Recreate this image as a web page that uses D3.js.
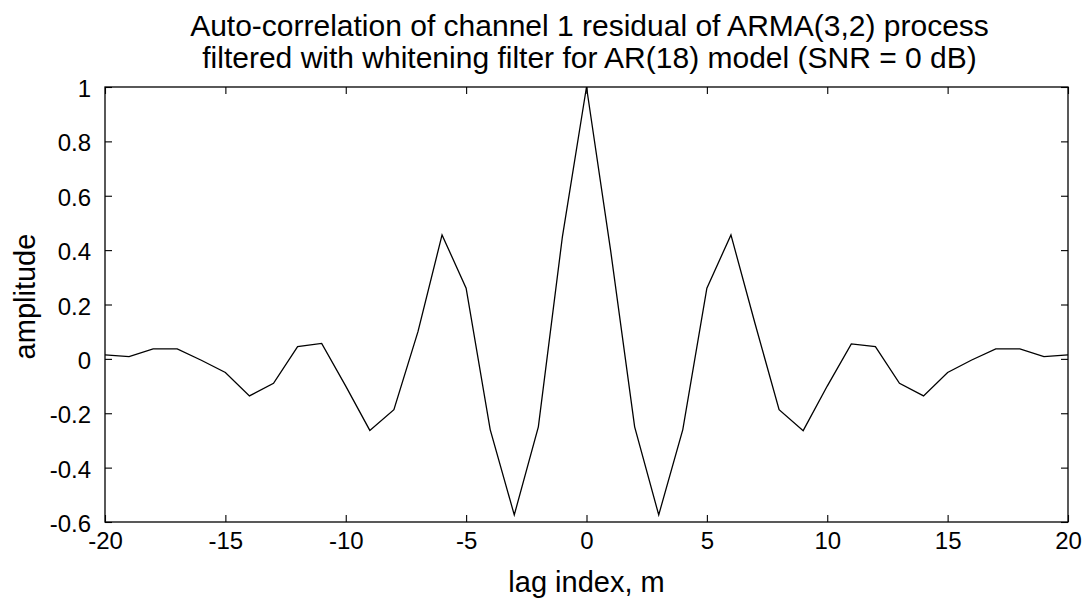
<!DOCTYPE html>
<html>
<head>
<meta charset="utf-8">
<script src="https://cdn.jsdelivr.net/npm/d3@7"></script>
<style>
  html, body { margin: 0; padding: 0; background: #fff; }
  svg { display: block; }
  text { font-family: "Liberation Sans", Arial, Helvetica, sans-serif; fill: #000; }
</style>
</head>
<body>
<svg id="chart" width="1086" height="601"></svg>
<script>
// Lag index m and the auto-correlation of the whitened residual at each lag
const lags = [-20, -19, -18, -17, -16, -15, -14, -13, -12, -11, -10,
              -9, -8, -7, -6, -5, -4, -3, -2, -1, 0,
              1, 2, 3, 4, 5, 6, 7, 8, 9, 10,
              11, 12, 13, 14, 15, 16, 17, 18, 19, 20];
const amplitude = [0.015, 0.008, 0.037, 0.037, -0.005, -0.05, -0.136, -0.09, 0.045, 0.057, -0.10,
                   -0.263, -0.187, 0.10, 0.456, 0.26, -0.26, -0.574, -0.25, 0.45, 1.0,
                   0.40, -0.25, -0.574, -0.26, 0.26, 0.456, 0.13, -0.187, -0.264, -0.10,
                   0.055, 0.045, -0.09, -0.136, -0.05, -0.004, 0.037, 0.037, 0.008, 0.015];

const xTicks = [-20, -15, -10, -5, 0, 5, 10, 15, 20];
const yTicks = [-0.6, -0.4, -0.2, 0, 0.2, 0.4, 0.6, 0.8, 1];
const titleLines = [
  "Auto-correlation of channel 1 residual of ARMA(3,2) process",
  "filtered with whitening filter for AR(18) model (SNR = 0 dB)"
];

const W = 1086, H = 601;
const margin = { left: 105, right: 18, top: 87, bottom: 79 };
const innerW = W - margin.left - margin.right;
const innerH = H - margin.top - margin.bottom;

const svg = d3.select("#chart");
const g = svg.append("g").attr("transform", `translate(${margin.left},${margin.top})`);

const x = d3.scaleLinear().domain([-20, 20]).range([0, innerW]);
const y = d3.scaleLinear().domain([-0.6, 1]).range([innerH, 0]);

// plain hyphen-minus for negative tick labels
const fmt = d => String(d);
const tickLen = 7;

// axes: inward ticks on all four sides, labels on bottom and left only
const axBottom = g.append("g").attr("transform", `translate(0,${innerH})`)
  .call(d3.axisBottom(x).tickValues(xTicks).tickSizeInner(-tickLen).tickSizeOuter(0).tickPadding(10).tickFormat(fmt));
const axTop = g.append("g")
  .call(d3.axisTop(x).tickValues(xTicks).tickSizeInner(-tickLen).tickSizeOuter(0).tickFormat(""));
const axLeft = g.append("g")
  .call(d3.axisLeft(y).tickValues(yTicks).tickSizeInner(-tickLen).tickSizeOuter(0).tickPadding(14).tickFormat(fmt));
const axRight = g.append("g").attr("transform", `translate(${innerW},0)`)
  .call(d3.axisRight(y).tickValues(yTicks).tickSizeInner(-tickLen).tickSizeOuter(0).tickFormat(""));

[axBottom, axTop, axLeft, axRight].forEach(a => {
  a.select(".domain").remove();
  a.selectAll(".tick line").attr("stroke", "#000").attr("stroke-width", 1.1);
  a.selectAll(".tick text").attr("font-size", 24).attr("font-family", null);
});
axLeft.selectAll(".tick text").attr("dy", "0.4em");

// plot frame
g.append("rect")
  .attr("x", 0).attr("y", 0).attr("width", innerW).attr("height", innerH)
  .attr("fill", "none").attr("stroke", "#000").attr("stroke-width", 1.3);

// auto-correlation curve
const pts = lags.map((m, i) => [m, amplitude[i]]);
g.append("path")
  .datum(pts)
  .attr("fill", "none")
  .attr("stroke", "#000")
  .attr("stroke-width", 1.3)
  .attr("stroke-linejoin", "miter")
  .attr("d", d3.line().x(d => x(d[0])).y(d => y(d[1])));

// title
svg.append("g").selectAll("text").data(titleLines).join("text")
  .attr("x", margin.left + innerW / 2 + 3)
  .attr("y", (d, i) => 36 + i * 32)
  .attr("text-anchor", "middle")
  .attr("font-size", 30)
  .text(d => d);

// axis labels
svg.append("text")
  .attr("x", margin.left + innerW / 2)
  .attr("y", 592)
  .attr("text-anchor", "middle")
  .attr("font-size", 29)
  .text("lag index, m");

svg.append("text")
  .attr("transform", `translate(35,${margin.top + innerH / 2 - 8}) rotate(-90)`)
  .attr("text-anchor", "middle")
  .attr("font-size", 29)
  .text("amplitude");
</script>
</body>
</html>
